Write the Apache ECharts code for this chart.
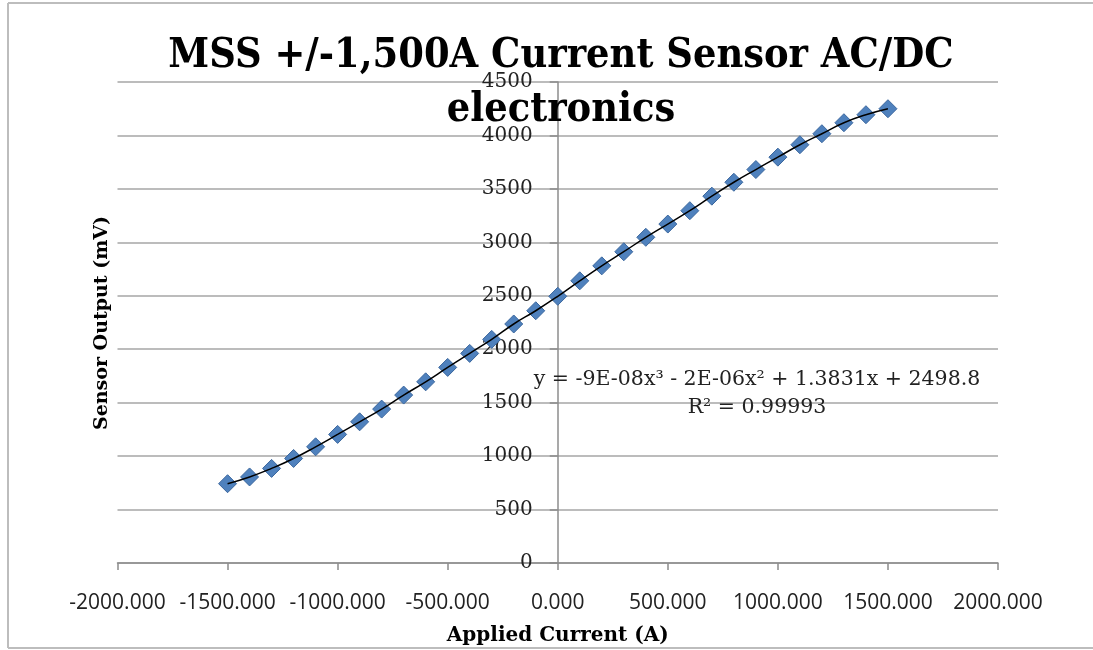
<!DOCTYPE html>
<html>
<head>
<meta charset="utf-8">
<script src="https://cdn.jsdelivr.net/npm/echarts@6/dist/echarts.min.js"></script>
<style>
html,body{margin:0;padding:0;background:#fff;}
#chart{width:1093px;height:650px;}
</style>
</head>
<body>
<div id="chart"></div>
<script>
// Applied current (A)
var currents = [-1500,-1400,-1300,-1200,-1100,-1000,-900,-800,-700,-600,-500,-400,-300,-200,-100,
                0,100,200,300,400,500,600,700,800,900,1000,1100,1200,1300,1400,1500];
// Sensor output (mV)
var outputs = [742,805,885,978,1087,1203,1321,1440,1571,1695,1830,1961,2092,2236,2360,
               2495,2640,2780,2912,3047,3171,3296,3432,3562,3681,3797,3913,4016,4119,4194,4250];
var xTicks = [-2000,-1500,-1000,-500,0,500,1000,1500,2000];
var yTicks = [0,500,1000,1500,2000,2500,3000,3500,4000,4500];
var titleLines = ['MSS +/-1,500A Current Sensor AC/DC', 'electronics'];
var xName = 'Applied Current (A)';
var yName = 'Sensor Output (mV)';
var equationText = 'y = -9E-08x\u00B3 - 2E-06x\u00B2 + 1.3831x + 2498.8';
var r2Text = 'R\u00B2 = 0.99993';

var pts = currents.map(function(c, i){ return [c, outputs[i]]; });

var W = 1093, gridLeft = 117.5, gridRight = 95;
var gridW = W - gridLeft - gridRight;
var xMin = xTicks[0], xMax = xTicks[xTicks.length-1];
// place the value axis where x = 0 crosses
var yAxisOffset = -((0 - xMin) / (xMax - xMin)) * gridW;

var chart = echarts.init(document.getElementById('chart'), null, {renderer:'canvas'});
var serif = "'DejaVu Serif',serif";
var serifCond = "'DejaVu Serif Condensed','DejaVu Serif',serif";
chart.setOption({
  backgroundColor:'#fff',
  animation:false,
  title:{
    text: titleLines.join('\n'),
    left: 556, top: 24, textAlign:'center',
    textStyle:{fontFamily:serifCond, fontWeight:'bold', fontSize:41, lineHeight:54, color:'#000'}
  },
  grid:{left:gridLeft, right:gridRight, top:82, bottom:87, containLabel:false, outerBoundsMode:'none'},
  xAxis:{
    type:'value', min:xMin, max:xMax, interval:500,
    name:xName, nameLocation:'middle', nameGap:63,
    nameTextStyle:{fontFamily:serif, fontWeight:'bold', fontSize:20, color:'#000'},
    axisLine:{show:true, onZero:false, lineStyle:{color:'#8c8c8c', width:1.5}},
    axisTick:{show:true, inside:false, length:7, lineStyle:{color:'#8c8c8c', width:1.5}},
    axisLabel:{margin:30, fontFamily:"'Open Sans',sans-serif", fontSize:21, color:'#222',
      formatter:function(v){ return v.toFixed(3); }},
    splitLine:{show:false}
  },
  yAxis:{
    type:'value', min:yTicks[0], max:yTicks[yTicks.length-1], interval:500,
    offset: yAxisOffset,
    axisLine:{show:true, onZero:false, lineStyle:{color:'#8c8c8c', width:1.5}},
    axisTick:{show:true, inside:false, length:8, lineStyle:{color:'#8c8c8c', width:1.5}},
    axisLabel:{margin:25, fontFamily:serif, fontSize:20, color:'#222',
      formatter:function(v){ return String(v); }},
    splitLine:{show:true, lineStyle:{color:'#a6a6a6', width:1.5}}
  },
  graphic:[
    {type:'line', shape:{x1:8, y1:3, x2:1093, y2:3}, style:{stroke:'#bdbdbd', lineWidth:2}},
    {type:'line', shape:{x1:8, y1:3, x2:8, y2:648}, style:{stroke:'#bdbdbd', lineWidth:2}},
    {type:'line', shape:{x1:8, y1:648, x2:1093, y2:648}, style:{stroke:'#bdbdbd', lineWidth:2}},
    {type:'text', x:102, y:323, rotation:Math.PI/2, z:10,
      style:{text:yName, fontFamily:serif, fontWeight:'bold', fontSize:19, fill:'#000',
        textAlign:'center', textVerticalAlign:'middle'}},
    {type:'text', x:757, y:380, z:10,
      style:{text:equationText, fontFamily:serif, fontSize:20.5, fill:'#222',
        textAlign:'center', textVerticalAlign:'middle'}},
    {type:'text', x:757, y:408, z:10,
      style:{text:r2Text, fontFamily:serif, fontSize:20.5, fill:'#222',
        textAlign:'center', textVerticalAlign:'middle'}}
  ],
  series:[
    {type:'scatter', data:pts, symbol:'diamond', symbolSize:[18,18], z:3,
      itemStyle:{color:'#4f81bd', borderColor:'#3b679e', borderWidth:1, opacity:1}},
    {type:'line', data:pts, smooth:true, symbol:'none', z:4,
      lineStyle:{color:'#000', width:1.5}}
  ]
});
</script>
</body>
</html>
